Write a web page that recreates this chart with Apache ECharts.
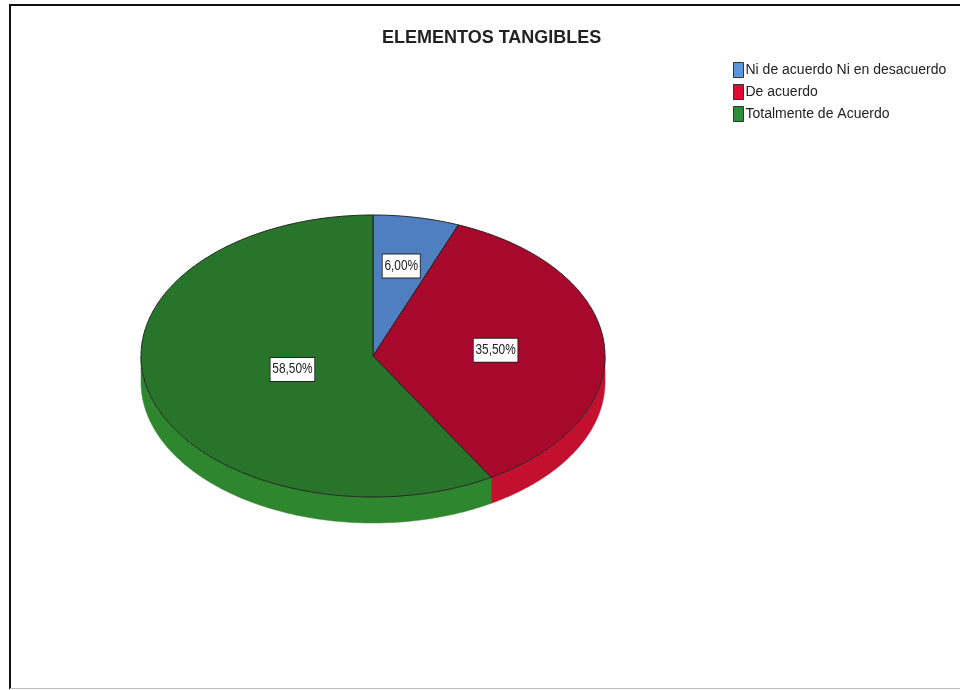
<!DOCTYPE html>
<html>
<head>
<meta charset="utf-8">
<script src="https://cdn.jsdelivr.net/npm/echarts@6/dist/echarts.min.js"></script>
<style>
  html, body { margin: 0; padding: 0; background: #fff; }
  #chart { width: 960px; height: 690px; }
</style>
</head>
<body>
<div id="chart"></div>
<script>
// ---- data ----
const chartTitle = 'ELEMENTOS TANGIBLES';
const categories = ['Ni de acuerdo Ni en desacuerdo', 'De acuerdo', 'Totalmente de Acuerdo'];
const percentages = [6.00, 35.50, 58.50];

// ---- styles ----
const topColors = ['#4f7fc0', '#a8082b', '#28742a'];
const sideColors = ['#4a78b5', '#c4102f', '#2e872e'];
const legendColors = ['#5b95dc', '#de0a30', '#2e8b38'];
const labelRadius = [0.65, 0.53, 0.36];
const FONT = '"Liberation Sans", Arial, sans-serif';

const geom = { cx: 373, cy: 356, rx: 232, ry: 141, depth: 26 };

function pt(theta, dy) {
  return [geom.cx + geom.rx * Math.sin(theta), geom.cy - geom.ry * Math.cos(theta) + (dy || 0)];
}
function arc(a1, a2, dy) {
  const pts = [];
  const n = Math.max(2, Math.ceil(Math.abs(a2 - a1) / (Math.PI / 360)));
  for (let i = 0; i <= n; i++) pts.push(pt(a1 + (a2 - a1) * i / n, dy));
  return pts;
}
const total = percentages.reduce((a, b) => a + b, 0);

function fmt(v) { return v.toFixed(2).replace('.', ',') + '%'; }

function renderSlice(params, api) {
  const idx = params.seriesIndex;
  let before = 0;
  for (let i = 0; i < idx; i++) before += percentages[i];
  const v = api.value(0);
  const start = before / total * Math.PI * 2;
  const end = (before + v) / total * Math.PI * 2;
  const children = [];
  // side (front half only)
  const s1 = Math.max(start, Math.PI / 2), s2 = Math.min(end, Math.PI * 1.5);
  if (s1 < s2) {
    const pts = arc(s1, s2, 0).concat(arc(s2, s1, geom.depth));
    children.push({
      type: 'polygon', z2: 1,
      shape: { points: pts },
      style: { fill: sideColors[idx], stroke: sideColors[idx], lineWidth: 0.5 }
    });
  }
  // top face
  const topPts = [[geom.cx, geom.cy]].concat(arc(start, end, 0));
  children.push({
    type: 'polygon', z2: 10,
    shape: { points: topPts },
    style: { fill: topColors[idx], stroke: '#222', lineWidth: 1 }
  });
  // label
  const mid = (start + end) / 2;
  const f = labelRadius[idx];
  children.push({
    type: 'text', z2: 20,
    x: geom.cx + geom.rx * f * Math.sin(mid),
    y: geom.cy - geom.ry * f * Math.cos(mid),
    scaleX: 0.85,
    style: {
      text: fmt(v), fill: '#222', font: '14px ' + FONT,
      align: 'center', verticalAlign: 'middle',
      backgroundColor: '#fff', borderColor: '#222', borderWidth: 1,
      padding: [5, 2, 4, 2]
    }
  });
  return { type: 'group', children: children };
}

const series = categories.map((name, i) => ({
  type: 'custom', name: name,
  coordinateSystem: 'none',
  itemStyle: { color: legendColors[i] },
  data: [[percentages[i]]],
  renderItem: renderSlice,
  silent: true
}));

const chart = echarts.init(document.getElementById('chart'), null, { renderer: 'canvas' });
chart.setOption({
  animation: false,
  backgroundColor: '#fff',
  title: {
    text: chartTitle, left: 377, top: 24,
    textStyle: { fontSize: 18, fontWeight: 'bold', color: '#222', fontFamily: FONT }
  },
  legend: {
    orient: 'vertical', left: 728, top: 57,
    itemWidth: 10, itemHeight: 15, itemGap: 6,
    icon: 'rect',
    selectedMode: false,
    textStyle: { fontSize: 14, color: '#222', fontFamily: FONT, padding: [0, 0, 0, -3] },
    data: categories.map((n, i) => ({ name: n, itemStyle: { color: legendColors[i], borderColor: '#333', borderWidth: 1 } }))
  },
  graphic: [
    { type: 'line', shape: { x1: 10, y1: 5, x2: 960, y2: 5 }, style: { stroke: '#111', lineWidth: 2 } },
    { type: 'line', shape: { x1: 10, y1: 4, x2: 10, y2: 689 }, style: { stroke: '#111', lineWidth: 2 } },
    { type: 'line', shape: { x1: 10, y1: 688.5, x2: 960, y2: 688.5 }, style: { stroke: '#bbb', lineWidth: 1 } }
  ],
  series: series
});
</script>
</body>
</html>
